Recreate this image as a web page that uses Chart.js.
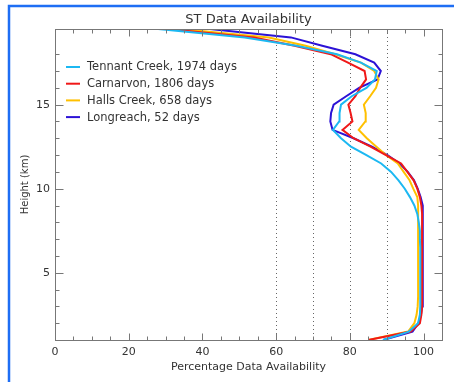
<!DOCTYPE html>
<html>
<head>
<meta charset="utf-8">
<script src="https://cdn.jsdelivr.net/npm/chart.js@4.4.1/dist/chart.umd.min.js"></script>
<style>
  html, body { margin: 0; padding: 0; background: #fff; }
</style>
</head>
<body>
<canvas id="availChart" width="454" height="382"></canvas>
<script>
// heights (km) shared by every station profile
var heights = [1, 1.5, 2, 2.5, 3, 3.5, 4, 4.5, 5, 5.5, 6, 6.5, 7, 7.5, 8, 8.5, 9, 9.5, 10,
    10.5, 11, 11.5, 12, 12.5, 13, 13.5, 14, 14.5, 15, 15.5, 16, 16.5, 17, 17.5, 18, 18.5, 19, 19.5];

// percentage availability at each height
var tennant = [89, 96, 98.5, 99, 99.1, 99.1, 99.1, 99.1, 99.1, 99.1, 99.1, 99.1, 99, 99, 98.7, 98.3, 97.5, 96.3, 94.9,
    93.2, 91.2, 88.5, 84.5, 80.3, 77.6, 75.4, 77.1, 77.2, 77.6, 80.5, 84.5, 86.8, 87.3, 83, 76.5, 65.5, 51.5, 28];
var carnarvon = [85, 96.5, 99, 99.4, 99.6, 99.6, 99.6, 99.6, 99.6, 99.6, 99.6, 99.6, 99.6, 99.6, 99.6, 99.6, 99.4, 99, 98.3,
    97.3, 95.6, 93.9, 89.8, 85.6, 81, 78, 80.7, 80.2, 79.6, 81.5, 82.8, 84.4, 84, 79.5, 74.8, 65, 54, 30.5];
var halls = [85, 95.8, 97.5, 98.1, 98.4, 98.5, 98.5, 98.5, 98.5, 98.5, 98.5, 98.5, 98.5, 98.5, 98.5, 98.5, 98.7, 98.3, 97.2,
    96.2, 94.6, 93, 89.8, 87.2, 84.6, 82.4, 84.2, 84.3, 83.8, 85.5, 87.1, 87.8, 86.6, 83, 76, 68, 58, 34];
var longreach = [89, 97, 98.6, 99.3, 99.6, 99.8, 99.8, 99.8, 99.8, 99.8, 99.8, 99.8, 99.8, 99.8, 99.8, 99.8, 99.6, 99.2, 98.4,
    97.4, 95.7, 93.5, 90.2, 86, 81, 75.3, 74.7, 74.9, 75.6, 79, 82.5, 87.5, 88.4, 86.6, 81.5, 72.5, 64, 42];

var stations = ['Tennant Creek', 'Carnarvon', 'Halls Creek', 'Longreach'];
var days = [1974, 1806, 658, 52];
var colours = ['#1cb8f2', '#f01818', '#ffc000', '#2c12d6'];

var xLabels = [0, 20, 40, 60, 80, 100];
var yLabels = [5, 10, 15];
var dottedAt = [60, 70, 80, 90];

var series = [tennant, carnarvon, halls, longreach];
var font = "'DejaVu Sans', sans-serif";
var textCol = '#333';
var axisCol = '#777';

var datasets = series.map(function (vals, i) {
    return {
        label: stations[i] + ', ' + days[i] + ' days',
        data: vals.map(function (v, k) { return { x: v, y: heights[k] }; }),
        showLine: true,
        borderColor: colours[i],
        backgroundColor: colours[i],
        borderWidth: 2,
        pointRadius: 0,
        fill: false
    };
});

var px = function (v) { return Math.round(v) + 0.5; };

var decorations = {
    id: 'decorations',
    beforeDatasetsDraw: function (chart) {
        var ctx = chart.ctx, a = chart.chartArea, x = chart.scales.x;
        ctx.save();
        ctx.strokeStyle = '#666';
        ctx.lineWidth = 1;
        ctx.setLineDash([1, 3]);
        dottedAt.forEach(function (v) {
            var p = px(x.getPixelForValue(v));
            ctx.beginPath();
            ctx.moveTo(p, a.top);
            ctx.lineTo(p, a.bottom);
            ctx.stroke();
        });
        ctx.restore();
    },
    afterDraw: function (chart) {
        var ctx = chart.ctx, a = chart.chartArea;
        var x = chart.scales.x, y = chart.scales.y;
        var l = px(a.left), r = px(a.right), t = px(a.top), b = px(a.bottom);
        ctx.save();
        ctx.strokeStyle = axisCol;
        ctx.lineWidth = 1;
        ctx.strokeRect(l, t, r - l, b - t);

        // inward tick marks on all four sides
        ctx.beginPath();
        x.ticks.forEach(function (tk) {
            var p = px(x.getPixelForValue(tk.value));
            var len = tk.value % 20 === 0 ? 7 : 4;
            ctx.moveTo(p, b); ctx.lineTo(p, b - len);
            ctx.moveTo(p, t); ctx.lineTo(p, t + len);
        });
        y.ticks.forEach(function (tk) {
            if (tk.value % 1 !== 0) return;
            var p = px(y.getPixelForValue(tk.value));
            var len = tk.value % 5 === 0 ? 8 : 4;
            ctx.moveTo(l, p); ctx.lineTo(l + len, p);
            ctx.moveTo(r, p); ctx.lineTo(r - len, p);
        });
        ctx.stroke();

        // title
        ctx.fillStyle = textCol;
        ctx.font = '13px ' + font;
        ctx.textAlign = 'center';
        ctx.textBaseline = 'alphabetic';
        ctx.fillText('ST Data Availability', (a.left + a.right) / 2, 22.5);

        // legend inside the plot
        ctx.font = '11.5px ' + font;
        ctx.textAlign = 'left';
        ctx.textBaseline = 'middle';
        chart.data.datasets.forEach(function (ds, i) {
            var ly = 67 + i * 16.7;
            ctx.strokeStyle = ds.borderColor;
            ctx.lineWidth = 2;
            ctx.beginPath();
            ctx.moveTo(66, ly);
            ctx.lineTo(80, ly);
            ctx.stroke();
            ctx.fillText(ds.label, 87, ly + 0.5);
        });

        // blue outer frame
        ctx.strokeStyle = '#1e6ef4';
        ctx.lineWidth = 2.5;
        ctx.beginPath();
        ctx.moveTo(9, 382);
        ctx.lineTo(9, 6);
        ctx.lineTo(454, 6);
        ctx.stroke();
        ctx.restore();
    }
};

var chart = new Chart(document.getElementById('availChart').getContext('2d'), {
    type: 'scatter',
    data: { datasets: datasets },
    options: {
        responsive: false,
        devicePixelRatio: 1,
        animation: false,
        layout: { padding: { top: 29, right: 12, bottom: 0, left: 0 } },
        plugins: {
            legend: { display: false },
            tooltip: { enabled: false }
        },
        scales: {
            x: {
                type: 'linear',
                min: 0,
                max: 105,
                grid: { display: false, drawTicks: false },
                border: { display: false },
                ticks: {
                    stepSize: 5,
                    autoSkip: false,
                    maxRotation: 0,
                    padding: 6,
                    color: textCol,
                    font: { family: font, size: 11 },
                    callback: function (v) { return xLabels.indexOf(v) >= 0 ? String(v) : ''; }
                },
                title: {
                    display: true,
                    text: 'Percentage Data Availability',
                    color: textCol,
                    font: { family: font, size: 11 },
                    padding: { top: 0, bottom: 8 }
                },
                afterFit: function (scale) { scale.height = 42; }
            },
            y: {
                type: 'linear',
                min: 1,
                max: 19.5,
                grid: { display: false, drawTicks: false },
                border: { display: false },
                ticks: {
                    stepSize: 1,
                    autoSkip: false,
                    padding: 5,
                    color: textCol,
                    font: { family: font, size: 11 },
                    callback: function (v) { return yLabels.indexOf(v) >= 0 ? String(v) : ''; }
                },
                title: {
                    display: true,
                    text: 'Height (km)',
                    color: textCol,
                    font: { family: font, size: 10 },
                    padding: { top: 19, bottom: 0 }
                },
                afterFit: function (scale) { scale.width = 55; }
            }
        }
    },
    plugins: [decorations]
});
</script>
</body>
</html>
